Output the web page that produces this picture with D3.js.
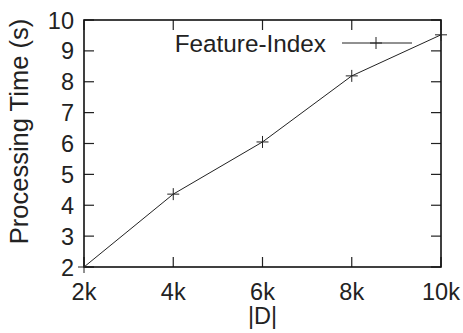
<!DOCTYPE html>
<html><head><meta charset="utf-8">
<script src="https://cdn.jsdelivr.net/npm/d3@7"></script>
<style>body{margin:0;background:#fff}svg{display:block}text{font-family:"Liberation Sans",Arial,sans-serif;fill:#222}</style>
</head><body>
<svg id="c" width="463" height="333"></svg>
<script>
const sizes = [2000, 4000, 6000, 8000, 10000];
const times = [2.0, 4.36, 6.05, 8.19, 9.52];
const xTicks = [2000, 4000, 6000, 8000, 10000];
const xTickLabels = ["2k", "4k", "6k", "8k", "10k"];
const yTicks = [2, 3, 4, 5, 6, 7, 8, 9, 10];
const seriesName = "Feature-Index";

const svg = d3.select("#c");
const L = 84, R = 441, T = 20, B = 267;
const x = d3.scaleLinear().domain([2000, 10000]).range([L, R]);
const y = d3.scaleLinear().domain([2, 10]).range([B, T]);
const fs = "23.5px";

// ticks (inward, mirrored)
const tk = 10;
const g = svg.append("g").attr("stroke", "#222").attr("stroke-width", 1.2);
yTicks.forEach(v => {
  g.append("line").attr("x1", L).attr("x2", L + tk).attr("y1", y(v)).attr("y2", y(v));
  g.append("line").attr("x1", R).attr("x2", R - tk).attr("y1", y(v)).attr("y2", y(v));
});
xTicks.forEach(v => {
  g.append("line").attr("x1", x(v)).attr("x2", x(v)).attr("y1", B).attr("y2", B - tk);
  g.append("line").attr("x1", x(v)).attr("x2", x(v)).attr("y1", T).attr("y2", T + tk);
});
svg.append("rect").attr("x", L).attr("y", T).attr("width", R - L).attr("height", B - T)
  .attr("fill", "none").attr("stroke", "#111").attr("stroke-width", 1.6);

// tick labels
yTicks.forEach(v => {
  svg.append("text").attr("x", L - 10).attr("y", y(v) + 8.5).attr("text-anchor", "end")
    .style("font-size", fs).text(v);
});
xTicks.forEach((v, i) => {
  svg.append("text").attr("x", x(v)).attr("y", 299.5).attr("text-anchor", "middle")
    .style("font-size", fs).text(xTickLabels[i]);
});

// axis titles
svg.append("text").attr("x", (L + R) / 2).attr("y", 324).attr("text-anchor", "middle")
  .style("font-size", fs).text("|D|");
svg.append("text").attr("transform", "translate(28,131.5) rotate(-90)").attr("text-anchor", "middle")
  .style("font-size", "25.5px").text("Processing Time (s)");

// series
const line = d3.line().x((d, i) => x(sizes[i])).y(d => y(d));
svg.append("path").datum(times).attr("d", line).attr("fill", "none")
  .attr("stroke", "#222").attr("stroke-width", 1);
const m = 6;
const mk = svg.append("g").attr("stroke", "#222").attr("stroke-width", 1);
times.forEach((v, i) => {
  const cx = x(sizes[i]), cy = y(v);
  mk.append("line").attr("x1", cx - m).attr("x2", cx + m).attr("y1", cy).attr("y2", cy);
  mk.append("line").attr("x1", cx).attr("x2", cx).attr("y1", cy - m).attr("y2", cy + m);
});

// legend
svg.append("text").attr("x", 326).attr("y", 52).attr("text-anchor", "end")
  .style("font-size", "24.3px").text(seriesName);
const ly = 43;
mk.append("line").attr("x1", 342).attr("x2", 412).attr("y1", ly).attr("y2", ly);
mk.append("line").attr("x1", 376 - m).attr("x2", 376 + m).attr("y1", ly).attr("y2", ly);
mk.append("line").attr("x1", 376).attr("x2", 376).attr("y1", ly - m).attr("y2", ly + m);
</script>
</body></html>
